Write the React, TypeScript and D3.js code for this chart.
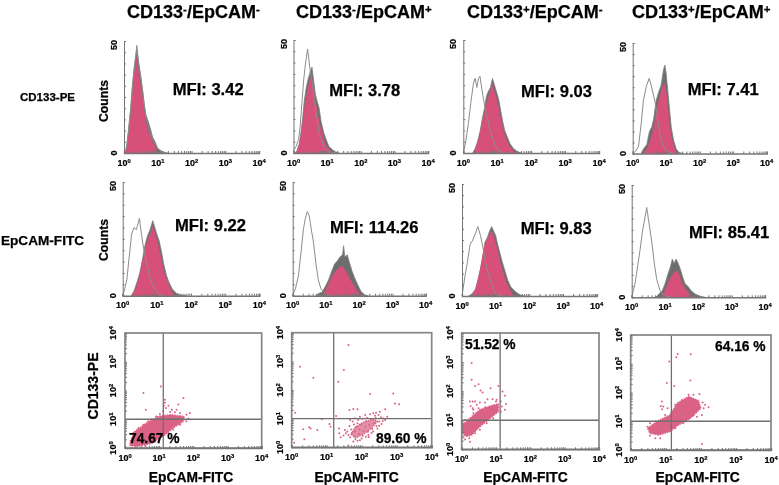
import * as React from 'react';
import * as d3 from 'd3';

type Pt = [number, number];

// histogram values: [log10 fluorescence, counts]
const ctrl11: Pt[] = [[.03,0],[.08,3],[.13,10],[.2,20],[.25,30],[.3,38],[.35,44],[.38,48],[.43,41],[.5,34],[.55,28],[.6,21],[.65,16],[.72,12],[.78,9],[.85,6],[.92,4],[1,2],[1.1,.5],[1.3,0]];
const gray11: Pt[] = [[.04,0],[.08,3],[.13,9],[.2,20],[.25,30],[.3,37],[.35,43],[.38,46],[.43,40],[.5,33],[.55,28],[.6,22],[.65,17],[.72,14],[.78,11],[.85,7],[.92,5],[1,2],[1.1,1],[1.25,0]];
const pink11: Pt[] = [[.05,0],[.13,8],[.2,18],[.25,28],[.3,35],[.35,41],[.38,43],[.43,37],[.5,30],[.55,25],[.6,19],[.65,14],[.72,10],[.78,8],[.85,5],[.92,3],[1,0]];

const ctrl12: Pt[] = [[0,1],[.08,3],[.15,6],[.2,12],[.25,22],[.3,32],[.36,40],[.42,46],[.46,41],[.5,36],[.55,32],[.6,26],[.65,20],[.7,15],[.75,10],[.8,7],[.88,4],[.95,2],[1.05,.5],[1.3,0]];
const gray12: Pt[] = [[.05,0],[.1,1],[.17,4],[.22,9],[.27,15],[.32,23],[.38,29],[.44,33],[.5,36],[.55,38],[.6,32],[.65,26],[.7,23],[.76,20],[.82,14],[.9,9],[.97,6],[1.05,3],[1.15,1.5],[1.25,.5],[1.35,0]];
const pink12: Pt[] = [[.08,0],[.17,4],[.25,11],[.32,20],[.4,27],[.47,32],[.52,34],[.58,30],[.65,23],[.72,18],[.8,12],[.88,8],[.95,4],[1.05,2],[1.15,0]];

const ctrl13: Pt[] = [[0,0],[.07,5],[.15,13],[.22,22],[.3,31],[.35,33],[.4,29],[.45,33],[.49,34],[.55,28],[.64,20],[.72,15],[.79,10],[.88,6],[.95,3],[1.03,1],[1.2,0]];
const gray13: Pt[] = [[.28,0],[.35,2],[.42,5],[.5,10],[.57,16],[.63,20],[.68,25],[.73,27],[.8,29],[.86,33],[.92,30],[.98,27],[1.04,24],[1.1,19],[1.16,14],[1.22,10],[1.3,7],[1.38,4],[1.48,2],[1.6,.5],[1.7,0]];
const pink13: Pt[] = [[.3,0],[.38,3],[.46,7],[.53,12],[.6,17],[.68,22],[.76,26],[.85,31],[.9,28],[.97,25],[1.03,21],[1.1,16],[1.17,11],[1.25,7],[1.33,4],[1.42,2],[1.55,0]];

const ctrl14: Pt[] = [[0,0],[.08,1],[.17,3],[.25,13],[.32,24],[.4,30],[.49,34],[.55,31],[.67,23],[.74,16],[.81,9],[.9,4],[1,1],[1.2,0]];
const gray14: Pt[] = [[.25,0],[.32,2],[.42,4],[.5,10],[.57,12],[.63,16],[.7,24],[.78,28],[.85,31],[.92,38],[.96,40],[1,36],[1.05,28],[1.1,20],[1.15,12],[1.22,6],[1.3,2],[1.38,.5],[1.5,0]];
const pink14: Pt[] = [[.3,0],[.42,2],[.5,5],[.58,9],[.65,14],[.72,21],[.8,26],[.88,30],[.95,32],[1,28],[1.05,22],[1.1,14],[1.15,8],[1.22,4],[1.32,0]];

const ctrl21: Pt[] = [[0,0],[.06,3],[.12,7],[.19,17],[.26,27],[.33,30],[.4,29],[.49,34],[.55,27],[.62,20],[.7,14],[.8,8],[.9,4],[1.03,1],[1.2,0]];
const gray21: Pt[] = [[.25,0],[.33,2],[.42,6],[.5,10],[.58,16],[.65,22],[.72,26],[.8,29],[.88,33],[.94,30],[1,27],[1.07,24],[1.14,19],[1.2,14],[1.28,9],[1.35,6],[1.45,3],[1.58,1],[1.72,.3],[1.85,0]];
const pink21: Pt[] = [[.28,0],[.4,4],[.48,8],[.56,14],[.64,20],[.72,24],[.8,27],[.88,31],[.94,28],[1,25],[1.08,20],[1.15,15],[1.22,10],[1.3,7],[1.4,3],[1.52,0]];

const ctrl22: Pt[] = [[0,0],[.08,3],[.17,8.5],[.25,19],[.32,29],[.38,34],[.44,37],[.5,35],[.56,29],[.62,24],[.7,14],[.77,7],[.85,3],[1,.5],[1.2,0]];
const gray22: Pt[] = [[.7,0],[.78,1],[.88,1.5],[.98,4],[1.08,7],[1.18,11],[1.26,14],[1.33,15],[1.42,17],[1.5,18],[1.53,22],[1.57,17],[1.64,18],[1.7,15],[1.78,11],[1.86,8],[1.95,5],[2.05,2],[2.15,.5],[2.25,0]];
const pink22: Pt[] = [[.92,0],[1,3],[1.1,6],[1.2,9],[1.3,11],[1.4,12.5],[1.5,13],[1.6,11],[1.7,8],[1.78,6],[1.88,3.5],[1.98,1.5],[2.06,0]];

const ctrl23: Pt[] = [[0,0],[.04,4],[.09,9],[.16,15],[.24,23],[.32,25],[.4,28],[.47,31],[.55,27],[.63,21],[.7,15],[.78,10],[.88,5],[1,1],[1.2,0]];
const gray23: Pt[] = [[.2,0],[.3,1],[.4,3],[.47,7],[.55,12],[.62,18],[.68,24],[.75,26],[.82,29],[.88,31],[.94,29],[1,27],[1.06,23],[1.13,19],[1.2,15],[1.28,11],[1.36,7],[1.45,4],[1.58,2],[1.72,.5],[1.85,0]];
const pink23: Pt[] = [[.28,0],[.4,3],[.48,8],[.56,14],[.64,21],[.72,25],[.8,27],[.88,29],[.94,27],[1,24],[1.08,19],[1.16,14],[1.24,10],[1.32,6],[1.42,3],[1.55,0]];

const ctrl24: Pt[] = [[0,0],[.05,3],[.1,6],[.18,14],[.25,21],[.32,29],[.38,34],[.45,40],[.5,35],[.55,30],[.6,25],[.68,15],[.75,8],[.85,3],[.95,1],[1.2,0]];
const gray24: Pt[] = [[.72,0],[.82,1.5],[.92,3],[1,6],[1.08,10],[1.15,13],[1.22,17],[1.27,15],[1.33,17],[1.4,15],[1.47,12],[1.53,9],[1.6,6],[1.68,5],[1.78,3],[1.9,1.5],[2.05,.5],[2.2,0]];
const pink24: Pt[] = [[.85,0],[.95,2],[1.03,4],[1.1,7],[1.18,9],[1.28,11],[1.38,12],[1.45,9],[1.52,6],[1.6,4],[1.7,2],[1.8,0]];

// dot plots: dense part of each cloud as an outline, loose events one by one (log10 x, log10 y)
const core31: Pt[] = [[.15,.23],[.29,.58],[.63,.87],[.98,1.1],[1.32,1.16],[1.73,1.1],[1.71,.93],[1.41,.7],[1.12,.41],[.73,.15],[.39,.06],[.15,.08]];
const dots31: Pt[] = [[.54,1.91],[1.05,2.14],[1.71,1.74],[1.17,1.57],[1.27,1.47],[1.56,1.51],[1.9,1.22],[.61,1.33],[1.51,1.33],[1.37,1.33],[1.2,1.39],[1.32,1.25],[1.46,1.24],[1.61,1.22],[1.8,1.16],[1.12,1.28],[1.02,1.18],[.91,1.1],[.78,.99],[.68,.93],[.54,.81],[.39,.7],[.24,.52],[1.85,1.02],[1.79,.93],[1.61,.81],[1.41,.64],[1.27,.52],[1.02,.35],[.88,.23],[.59,.08],[1.14,1.47],[1.17,1.68]];

const core32: Pt[] = [[1.7,.45],[1.8,.68],[2.05,.88],[2.35,.98],[2.45,.9],[2.28,.68],[2.08,.48],[1.85,.34]];
const dots32: Pt[] = [[.24,2.81],[.62,2.43],[1.62,3.57],[1.49,2.7],[1.33,2.29],[2.24,1.86],[2.9,1.88],[2.95,1.53],[3.07,1.5],[2.67,1.33],[2.52,1.24],[2.41,1.21],[1.88,1.33],[1.76,1.34],[1.65,1.3],[1.27,1.09],[.1,1.21],[.86,.98],[.33,.63],[.5,.7],[.54,.66],[.73,.6],[1.08,.81],[1.11,.72],[.36,.28],[.07,.16],[1.35,.66],[1.4,.35],[1.48,.41],[1.36,.49],[1.62,.06],[1.55,.49],[1.52,.6],[1.67,.95],[1.81,1.01],[1.95,1.07],[2.1,1.13],[2.24,1.15],[2.33,1.19],[2.48,1.13],[2.62,1.01],[2.73,1.07],[2.67,.95],[2.57,.81],[2.45,.66],[2.33,.55],[2.19,.43],[2,.31],[1.88,.23],[1.76,.2],[1.67,.35],[1.59,.55],[1.65,.74],[1.74,.9],[1.88,.84],
  [1.62,.43],[1.7,.62],[1.72,.5],[1.78,.38],[1.8,.55],[1.85,.72],[1.92,.46],[1.94,.62],[1.98,.8],[2.03,.4],[2.05,.57],[2.1,.72],[2.13,.92],[2.18,.54],[2.22,.79],[2.26,.99],[2.3,.64],[2.36,.84],[2.4,1.02],[2.42,.74],[2.5,.9],[2.55,1.05],[2.6,.92],[2.02,1],[1.9,.95],[1.78,.8],[2.15,1.03],[2.38,1.1],[2.2,.36],[1.95,.25],[1.82,.29],[2.12,.37],[2.5,.75],[2.28,.5]];

const core33: Pt[] = [[.02,.84],[.24,1.07],[.53,1.36],[.87,1.51],[1.07,1.56],[1.07,1.3],[.83,1.07],[.53,.78],[.29,.49],[.13,.44],[.02,.55]];
const dots33: Pt[] = [[.29,2.97],[.29,2.39],[.49,2.24],[.39,2.18],[.55,2.02],[.61,1.95],[1.07,2.18],[1.19,1.99],[.84,2.1],[.24,1.64],[.32,1.64],[.39,1.64],[.26,1.49],[.32,1.41],[.44,1.53],[.53,1.61],[.75,1.72],[.9,1.72],[1.02,1.7],[1.14,1.64],[1.26,1.84],[1.29,1.56],[1.17,1.47],[1.26,1.36],[1.14,1.3],[1,1.64],[.68,1.61],[.24,.26],[.22,.38],[.1,.34],[.39,.55],[.53,.67],[.73,.9],[.92,1.07],[.1,1.01],[.34,1.24],[.49,1.41],[.68,1.45],[.05,.41],[.34,1.36]];

const core34: Pt[] = [[.48,.76],[.79,1.02],[1.12,1.22],[1.33,1.63],[1.65,1.86],[1.93,1.72],[2,1.45],[1.7,1.1],[1.36,.87],[1.12,.64],[.79,.52],[.55,.58]];
const dots34: Pt[] = [[1.1,3.08],[1.3,3.23],[1.34,3.34],[1.71,3.33],[1.7,2.42],[1.03,2.33],[1.24,2.23],[.89,1.69],[.86,1.53],[.93,1.51],[1.05,1.45],[.89,1.42],[.98,1.22],[2.22,1.49],[2.12,1.57],[2.08,1.45],[1.96,1.95],[1.79,1.92],[1.65,1.92],[1.46,1.74],[1.27,1.57],[2.03,1.22],[1.89,1.16],[2.05,1.65],[.55,.5],[.7,.41],[.84,.41],[.89,.58],[.55,.93],[.7,.99],[.48,.81],[.6,.7],[1.27,.76],[1.5,.93],[1.79,1.22],[2.03,.21],[1.17,1.05]];

const mfiLabels = ['MFI: 3.42', 'MFI: 3.78', 'MFI: 9.03', 'MFI: 7.41', 'MFI: 9.22', 'MFI: 114.26', 'MFI: 9.83', 'MFI: 85.41'];
const pctLabels = ['74.67 %', '89.60 %', '51.52 %', '64.16 %'];
const gates: Pt[] = [[1.12, 1], [1.2, 1], [1.12, 1], [1.16, 1]];
const titleSigns = [['-', '-'], ['-', '+'], ['+', '-'], ['+', '+']];
const decades = [0, 1, 2, 3, 4];

const histograms = [
  [ctrl11, gray11, pink11], [ctrl12, gray12, pink12], [ctrl13, gray13, pink13], [ctrl14, gray14, pink14],
  [ctrl21, gray21, pink21], [ctrl22, gray22, pink22], [ctrl23, gray23, pink23], [ctrl24, gray24, pink24],
];
const dotPlots = [[core31, dots31], [core32, dots32], [core33, dots33], [core34, dots34]];

// panel boxes [x0, x1, y0, y1] in page pixels
const histBoxes = [
  [124, 259, 41, 153], [293.5, 428, 40, 153], [463.3, 599, 40, 153], [632.7, 766.7, 43, 153.5],
  [122.7, 259.3, 182, 295.7], [292.7, 425.7, 182, 295.7], [462, 596.7, 184, 296], [631.7, 765, 185, 297.3],
];
const dotBoxes = [[125, 261.7, 333, 448], [291.7, 431.7, 332.7, 447.3], [461.7, 599, 333, 449.3], [630.7, 771, 335, 450]];
const mfiPos = [[172.7, 95], [329.3, 96], [521, 97], [687.7, 95], [175, 230.7], [330, 232.7], [520.7, 234.3], [689, 237.7]];
const pctPos = [[129, 443.3], [376, 443.3], [465, 349], [715, 351]];
const titleX = [127, 296, 467, 632];
const xLabelX = [191, 356.7, 525.5, 697.7];

const FONT = '"Liberation Sans", Arial, sans-serif';
const PINK = '#d6507a';
const DOT = '#da6285';
const GRAY = '#757575';

const logMinor = d3.range(0, 4).flatMap((d) => d3.range(1, 10).map((m) => m * 10 ** d)).concat(1e4);

const App: React.FC = () => {
  const svgRef = React.useRef<SVGSVGElement>(null);

  React.useEffect(() => {
    const svg = d3.select(svgRef.current);
    svg.selectAll('*').remove();

    const boldText = (x: number, y: number, size: number, str: string) =>
      svg.append('text').attr('x', x).attr('y', y).attr('font-family', FONT)
        .attr('font-weight', 700).attr('font-size', size).attr('fill', '#000')
        .attr('stroke', '#000').attr('stroke-width', 0.25).text(str);

    const rotText = (x: number, y: number, size: number, str: string) =>
      svg.append('text').attr('transform', `translate(${x},${y}) rotate(-90)`).attr('text-anchor', 'middle')
        .attr('font-family', FONT).attr('font-weight', 700).attr('font-size', size).attr('fill', '#000')
        .attr('stroke', '#000').attr('stroke-width', 0.25).text(str);

    // 10 with raised exponent
    const powerLabel = (sel: d3.Selection<any, any, any, any>, n: number) => {
      sel.attr('stroke', '#000').attr('stroke-width', 0.2);
      sel.append('tspan').text('10');
      sel.append('tspan').attr('dy', -3).attr('font-size', 5.8).text(String(n));
    };

    const xLogAxis = (x: d3.ScaleLogarithmic<number, number>, yBase: number) => {
      const g = svg.append('g').attr('transform', `translate(0,${yBase})`)
        .call(d3.axisBottom(x).tickValues(logMinor).tickSize(-2).tickFormat(() => ''));
      g.selectAll('line').attr('stroke', GRAY);
      g.select('.domain').attr('stroke', GRAY).attr('stroke-width', 1.4);
      decades.forEach((n) => {
        const t = svg.append('text').attr('x', x(10 ** n)).attr('y', yBase + 12.5).attr('text-anchor', 'middle')
          .attr('font-family', FONT).attr('font-weight', 700).attr('font-size', 9);
        powerLabel(t, n);
      });
    };

    histograms.forEach(([ctrl, gray, pink], i) => {
      const [x0, x1, y0, y1] = histBoxes[i];
      const x = d3.scaleLog().domain([1, 1e4]).range([x0, x1]);
      const y = d3.scaleLinear().domain([0, 50]).range([y1, y0]);
      const area = d3.area<Pt>().x((d) => x(10 ** d[0])).y0(y(0)).y1((d) => y(d[1]));
      const line = d3.line<Pt>().x((d) => x(10 ** d[0])).y((d) => y(d[1]));

      svg.append('path').attr('d', area(gray)).attr('fill', '#6e6e6e').attr('stroke', '#808080').attr('stroke-width', 0.8);
      svg.append('path').attr('d', area(pink)).attr('fill', PINK);
      svg.append('path').attr('d', line(ctrl)).attr('fill', 'none').attr('stroke', '#8c8c8c').attr('stroke-width', 1);

      const left = svg.append('g').attr('transform', `translate(${x0},0)`)
        .call(d3.axisLeft(y).tickValues(d3.range(0, 51, 5)).tickSize(-2).tickFormat(() => ''));
      left.selectAll('line').attr('stroke', GRAY);
      left.select('.domain').attr('stroke', GRAY);
      xLogAxis(x, y1);

      rotText(x0 - 7, y0 + 4, 9, '50');
      rotText(x0 - 7, y1, 9, '0');
    });

    dotPlots.forEach(([core, dots], i) => {
      const [x0, x1, y0, y1] = dotBoxes[i];
      const x = d3.scaleLog().domain([1, 1e4]).range([x0, x1]);
      const y = d3.scaleLog().domain([1, 1e4]).range([y1, y0]);
      const px = (d: Pt) => x(10 ** d[0]);
      const py = (d: Pt) => y(10 ** d[1]);

      svg.append('path').attr('d', d3.line<Pt>().x(px).y(py).curve(d3.curveLinearClosed)(core))
        .attr('fill', i === 1 ? '#e48ea8' : DOT).attr('stroke', DOT).attr('stroke-width', 1.5)
        .attr('stroke-dasharray', '1.5 1');
      svg.append('g').selectAll('circle').data(dots).enter().append('circle')
        .attr('cx', px).attr('cy', py).attr('r', 1).attr('fill', DOT);

      const [gx, gy] = gates[i];
      svg.append('line').attr('x1', x(10 ** gx)).attr('x2', x(10 ** gx)).attr('y1', y0).attr('y2', y1)
        .attr('stroke', '#707070').attr('stroke-width', 1.3);
      svg.append('line').attr('x1', x0).attr('x2', x1).attr('y1', y(10 ** gy)).attr('y2', y(10 ** gy))
        .attr('stroke', '#707070').attr('stroke-width', 1.3);

      svg.append('rect').attr('x', x0).attr('y', y0).attr('width', x1 - x0).attr('height', y1 - y0)
        .attr('fill', 'none').attr('stroke', '#858585').attr('stroke-width', 1.7);

      const left = svg.append('g').attr('transform', `translate(${x0},0)`)
        .call(d3.axisLeft(y).tickValues(logMinor).tickSize(-2).tickFormat(() => ''));
      left.selectAll('line').attr('stroke', GRAY);
      left.select('.domain').attr('stroke', 'none');
      xLogAxis(x, y1);

      decades.forEach((n) => {
        const t = svg.append('text')
          .attr('transform', `translate(${x0 - 9},${y(10 ** n)}) rotate(-90)`).attr('text-anchor', 'middle')
          .attr('font-family', FONT).attr('font-weight', 700).attr('font-size', 9);
        powerLabel(t, n);
      });

      boldText(xLabelX[i], 481.5, 13.8, 'EpCAM-FITC').attr('text-anchor', 'middle');
      boldText(pctPos[i][0], pctPos[i][1], 13.8, pctLabels[i]);
    });

    titleSigns.forEach(([a, b], i) => {
      const t = boldText(titleX[i], 18, 18, '');
      t.append('tspan').text('CD133');
      t.append('tspan').attr('dy', -5.5).attr('font-size', 11.5).text(a);
      t.append('tspan').attr('dy', 5.5).text('/EpCAM');
      t.append('tspan').attr('dy', -5.5).attr('font-size', 11.5).text(b);
    });

    mfiLabels.forEach((m, i) => boldText(mfiPos[i][0], mfiPos[i][1], 16.6, m));

    boldText(20, 101, 11.5, 'CD133-PE');
    boldText(1, 245, 13.6, 'EpCAM-FITC');
    rotText(108, 101, 12.2, 'Counts');
    rotText(108, 240, 12.2, 'Counts');
    rotText(98, 386, 14, 'CD133-PE');
  }, []);

  return <svg ref={svgRef} width={779} height={485} style={{ position: 'absolute', left: 0, top: 0, background: '#fff', filter: 'blur(0.3px)' }} />;
};

export default App;
